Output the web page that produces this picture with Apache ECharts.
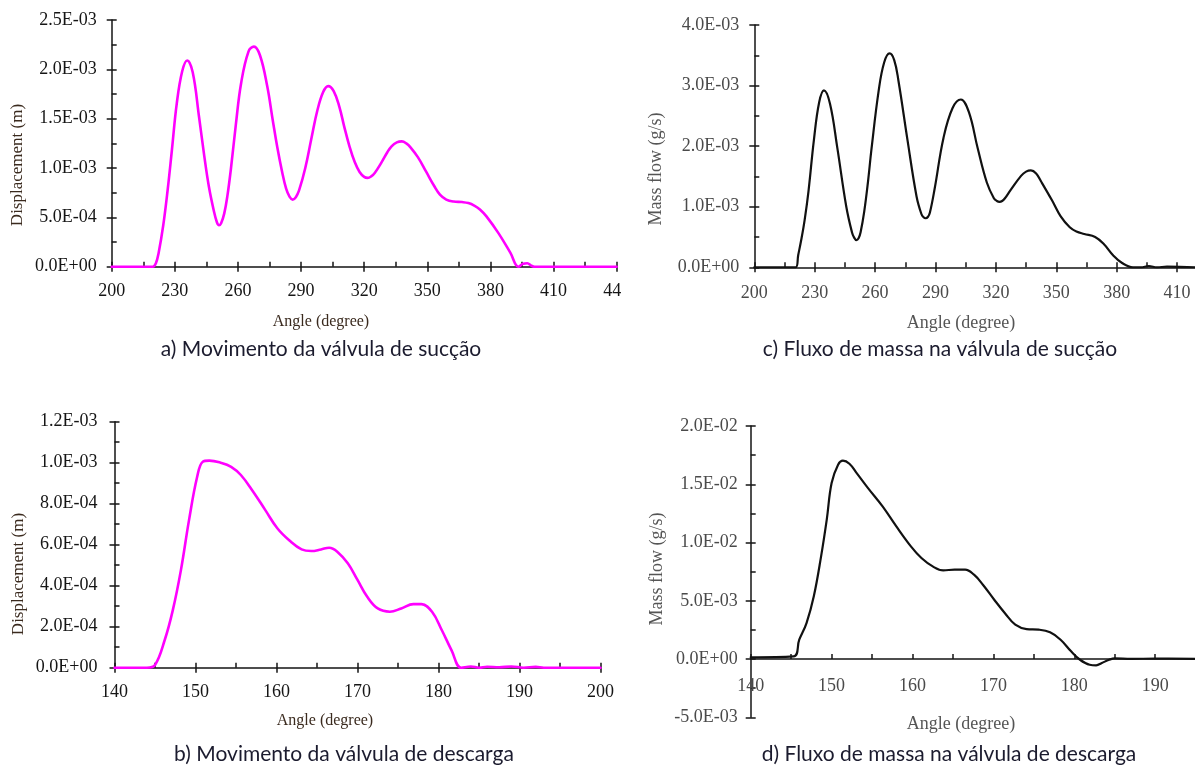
<!DOCTYPE html>
<html>
<head>
<meta charset="utf-8">
<title>Válvulas de sucção e descarga</title>
<script src="https://cdn.jsdelivr.net/npm/echarts@6/dist/echarts.min.js"></script>
<style>
  html, body { margin: 0; padding: 0; background: #ffffff; }
  #chart { width: 1195px; height: 765px; }
</style>
</head>
<body>
<div id="chart"></div>
<script>
// ---- a) suction valve displacement (m) vs crank angle (degree)
const suctionDispAngle = [200, 219.5, 221, 222.3, 224.5, 226.6, 228.6, 230.9, 233.5, 235.9, 238.5, 241.5, 244, 246.2, 248.5, 250, 251, 252, 253.5, 255, 256.7, 259, 261.5, 265, 267.6, 270.5, 273.9, 276.5, 278.7, 281, 282.9, 284.5, 286, 287.5, 289, 292, 295, 297.7, 300.5, 302.9, 305.5, 308.2, 310.5, 313, 315.5, 317.8, 320, 321.6, 323.3, 325, 328.3, 331, 333, 335.5, 337.9, 340, 342, 345.5, 349.5, 353.2, 356, 359, 362.5, 366.5, 369.5, 372.3, 375, 378.1, 383.8, 389.5, 393.3, 395.5, 397.5, 399.5, 401, 440];
const suctionDisp = [0, 0, 3.5e-5, 1.4e-4, 4.2e-4, 7.8e-4, 1.18e-3, 1.65e-3, 1.98e-3, 2.09e-3, 1.97e-3, 1.52e-3, 1.12e-3, 8.1e-4, 5.7e-4, 4.5e-4, 4.2e-4, 4.4e-4, 5.4e-4, 7.2e-4, 1.0e-3, 1.44e-3, 1.86e-3, 2.18e-3, 2.23e-3, 2.14e-3, 1.83e-3, 1.49e-3, 1.21e-3, 9.6e-4, 7.9e-4, 7.1e-4, 6.8e-4, 7.05e-4, 7.7e-4, 1.0e-3, 1.31e-3, 1.58e-3, 1.77e-3, 1.83e-3, 1.78e-3, 1.62e-3, 1.42e-3, 1.22e-3, 1.06e-3, 9.6e-4, 9.1e-4, 9.0e-4, 9.15e-4, 9.5e-4, 1.06e-3, 1.16e-3, 1.22e-3, 1.26e-3, 1.27e-3, 1.25e-3, 1.21e-3, 1.11e-3, 9.6e-4, 8.2e-4, 7.3e-4, 6.8e-4, 6.6e-4, 6.55e-4, 6.45e-4, 6.2e-4, 5.8e-4, 5.1e-4, 3.4e-4, 1.4e-4, 0, 3.0e-5, 3.5e-5, 1.0e-5, 0, 0];

// ---- c) suction valve mass flow (g/s)
const suctionFlowAngle = [200, 220.6, 221.8, 223.3, 225, 226.9, 229.6, 232.2, 234.6, 237.6, 241.2, 245.7, 248.5, 249.6, 250.7, 251.8, 252.8, 254.6, 256.5, 258.2, 261.8, 264.5, 267.2, 269.5, 271.6, 276.1, 280.6, 283, 284.1, 285.1, 286.2, 287.2, 289.6, 294, 298.5, 302.6, 306.6, 311, 315.5, 319, 320.5, 321.8, 323.1, 324.5, 327.2, 332.5, 335, 337.4, 340, 342.4, 347.8, 352.2, 356.7, 360, 363.9, 369.3, 373.7, 378.2, 382.7, 388.1, 392, 396, 400, 405, 420];
const suctionFlow = [0, 0, 2.0e-4, 4.5e-4, 7.8e-4, 1.25e-3, 2.10e-3, 2.72e-3, 2.92e-3, 2.70e-3, 1.98e-3, 1.0e-3, 5.8e-4, 4.9e-4, 4.5e-4, 4.8e-4, 5.8e-4, 9.2e-4, 1.42e-3, 1.95e-3, 2.92e-3, 3.38e-3, 3.53e-3, 3.42e-3, 3.08e-3, 2.10e-3, 1.17e-3, 8.8e-4, 8.25e-4, 8.1e-4, 8.3e-4, 9.0e-4, 1.30e-3, 2.14e-3, 2.63e-3, 2.77e-3, 2.56e-3, 1.96e-3, 1.40e-3, 1.14e-3, 1.095e-3, 1.08e-3, 1.095e-3, 1.14e-3, 1.27e-3, 1.51e-3, 1.58e-3, 1.60e-3, 1.55e-3, 1.42e-3, 1.11e-3, 8.4e-4, 6.6e-4, 5.9e-4, 5.5e-4, 5.0e-4, 3.8e-4, 2.0e-4, 7.0e-5, 0, 0, 2.0e-5, 0, 1.0e-5, 0];

// ---- b) discharge valve displacement (m)
const dischargeDispAngle = [140, 144.0, 145, 146.2, 147.2, 148.2, 149.2, 150.2, 150.9, 151.7, 153.1, 154.4, 155.6, 157.1, 158.6, 160.1, 161.6, 163.1, 164.3, 165.5, 166.5, 167.5, 168.8, 170, 171.2, 172.5, 174, 175.4, 176.9, 177.9, 179.2, 180.4, 181.6, 182.8, 184, 185, 186, 187.5, 189, 190.5, 192, 193, 200];
const dischargeDisp = [0, 0, 1.3e-5, 1.35e-4, 2.81e-4, 4.76e-4, 7.2e-4, 9.3e-4, 1.005e-3, 1.01e-3, 1.0e-3, 9.8e-4, 9.4e-4, 8.6e-4, 7.7e-4, 6.8e-4, 6.2e-4, 5.77e-4, 5.69e-4, 5.77e-4, 5.85e-4, 5.66e-4, 5.09e-4, 4.28e-4, 3.46e-4, 2.89e-4, 2.73e-4, 2.89e-4, 3.1e-4, 3.1e-4, 2.73e-4, 1.84e-4, 8.6e-5, 0, 6e-6, 0, 5e-6, 2e-6, 6e-6, 0, 4e-6, 0, 0];

// ---- d) discharge valve mass flow (g/s)
const dischargeFlowAngle = [140, 145.3, 146, 146.9, 147.8, 148.7, 149.4, 150, 150.8, 151.4, 152.2, 153.1, 154.5, 156.3, 158, 159.8, 161.1, 162.5, 163.8, 165.2, 166.5, 167.6, 168.7, 170.1, 171.4, 172.7, 174.1, 175.6, 177, 178.3, 179.6, 180.7, 181.9, 182.7, 183.4, 184.3, 185, 187, 190, 195];
const dischargeFlow = [1.5e-4, 2.3e-4, 1.66e-3, 3.09e-3, 5.38e-3, 8.81e-3, 1.196e-2, 1.51e-2, 1.668e-2, 1.702e-2, 1.676e-2, 1.596e-2, 1.467e-2, 1.31e-2, 1.138e-2, 9.67e-3, 8.67e-3, 7.95e-3, 7.61e-3, 7.67e-3, 7.67e-3, 7.24e-3, 6.38e-3, 5.09e-3, 3.95e-3, 2.95e-3, 2.57e-3, 2.52e-3, 2.29e-3, 1.66e-3, 6.6e-4, -6e-5, -4.9e-4, -5.4e-4, -3.4e-4, -6e-5, 6e-5, 2e-5, 3e-5, 2e-5];

// ---- tick values
const xTicksSuction = [200, 230, 260, 290, 320, 350, 380, 410, 440];
const xMinorSuction = [215, 245, 275, 305, 335, 365, 395, 425];
const xTicksDischarge = [140, 150, 160, 170, 180, 190, 200];
const xMinorDischarge = [145, 155, 165, 175, 185, 195];
const yTicksA = [0, 5e-4, 1e-3, 1.5e-3, 2e-3, 2.5e-3];
const yMinorA = [2.5e-4, 7.5e-4, 1.25e-3, 1.75e-3, 2.25e-3];
const yTicksC = [0, 1e-3, 2e-3, 3e-3, 4e-3];
const yMinorC = [5e-4, 1.5e-3, 2.5e-3, 3.5e-3];
const yTicksB = [0, 2e-4, 4e-4, 6e-4, 8e-4, 1e-3, 1.2e-3];
const yMinorB = [1e-4, 3e-4, 5e-4, 7e-4, 9e-4, 1.1e-3];
const yTicksD = [-5e-3, 0, 5e-3, 1e-2, 1.5e-2, 2e-2];
const yMinorD = [-2.5e-3, 2.5e-3, 7.5e-3, 1.25e-2, 1.75e-2];

// Scientific notation with a two-digit exponent, e.g. 2.5E-03
function sci(v) {
  if (Math.abs(v) < 1e-12) return '0.0E+00';
  const parts = v.toExponential(1).split('e');
  const e = parseInt(parts[1], 10);
  return parts[0] + 'E' + (e < 0 ? '-' : '+') + String(Math.abs(e)).padStart(2, '0');
}

function pairs(xs, ys) { return xs.map((x, i) => [x, ys[i]]); }

const SERIF = '"Liberation Serif", "Times New Roman", serif';
const INK = '#151515';
const GREY = '#4a4a4a';

// One panel = a grid with a labelled pair of axes plus a second pair that only carries inner ticks.
function panelAxes(g, p) {
  const line = { color: INK, width: 1.5 };
  // the horizontal axis of a panel whose value range crosses zero sits on the zero line
  const xOffset = p.yMin < 0 ? -p.grid.height * (-p.yMin) / (p.yMax - p.yMin) : 0;
  const xMain = {
    type: 'value', gridIndex: g, position: 'bottom', offset: xOffset, min: p.xMin, max: p.xMax,
    axisLine: { show: true, onZero: false, lineStyle: line },
    axisTick: { show: p.xOuterTicks, inside: false, length: 5, customValues: p.xTicks, lineStyle: line },
    axisLabel: { customValues: p.xTicks, margin: p.xMargin, fontFamily: SERIF, fontSize: p.xFont, color: p.labelColor },
    splitLine: { show: false }
  };
  const xInner = {
    type: 'value', gridIndex: g, position: 'bottom', offset: xOffset, min: p.xMin, max: p.xMax,
    axisLine: { show: false, onZero: false },
    axisTick: { show: true, inside: true, length: 5, customValues: p.xTicks.concat(p.xMinor), lineStyle: line },
    axisLabel: { show: false }, splitLine: { show: false }
  };
  const yMain = {
    type: 'value', gridIndex: g, position: 'left', min: p.yMin, max: p.yMax,
    axisLine: { show: true, onZero: false, lineStyle: line },
    axisTick: { show: true, inside: false, length: 5, customValues: p.yTicks, lineStyle: line },
    axisLabel: { customValues: p.yTicks, margin: p.yMargin, formatter: sci, fontFamily: SERIF, fontSize: 18, color: p.labelColor },
    splitLine: { show: false }
  };
  const yInner = {
    type: 'value', gridIndex: g, position: 'left', min: p.yMin, max: p.yMax,
    axisLine: { show: false, onZero: false },
    axisTick: { show: true, inside: true, length: 5, customValues: p.yTicks.concat(p.yMinor), lineStyle: line },
    axisLabel: { show: false }, splitLine: { show: false }
  };
  return { x: [xMain, xInner], y: [yMain, yInner] };
}

const panels = [
  { grid: { left: 111.7, top: 20, width: 505, height: 246.7 },
    xMin: 200, xMax: 440, xTicks: xTicksSuction, xMinor: xMinorSuction, xOuterTicks: true,
    yMin: 0, yMax: 2.5e-3, yTicks: yTicksA, yMinor: yMinorA,
    xMargin: 16, yMargin: 15, xFont: 18, labelColor: INK,
    data: pairs(suctionDispAngle, suctionDisp), color: '#ff00ff', width: 2.6 },
  { grid: { left: 754.3, top: 25, width: 442.9, height: 242.3 },
    xMin: 200, xMax: 420, xTicks: xTicksSuction.slice(0, 8), xMinor: xMinorSuction.slice(0, 7), xOuterTicks: true,
    yMin: 0, yMax: 4e-3, yTicks: yTicksC, yMinor: yMinorC,
    xMargin: 17, yMargin: 15, xFont: 18, labelColor: GREY,
    data: pairs(suctionFlowAngle, suctionFlow), color: '#111111', width: 2.2 },
  { grid: { left: 114.5, top: 421.7, width: 486, height: 246 },
    xMin: 140, xMax: 200, xTicks: xTicksDischarge, xMinor: xMinorDischarge, xOuterTicks: true,
    yMin: 0, yMax: 1.2e-3, yTicks: yTicksB, yMinor: yMinorB,
    xMargin: 16, yMargin: 17, xFont: 18, labelColor: INK,
    data: pairs(dischargeDispAngle, dischargeDisp), color: '#ff00ff', width: 2.6 },
  { grid: { left: 750.7, top: 426, width: 445, height: 291.3 },
    xMin: 140, xMax: 195, xTicks: xTicksDischarge.slice(0, 6), xMinor: xMinorDischarge.slice(0, 5), xOuterTicks: false,
    yMin: -5e-3, yMax: 2e-2, yTicks: yTicksD, yMinor: yMinorD,
    xMargin: 18, yMargin: 13, xFont: 18, labelColor: GREY,
    data: pairs(dischargeFlowAngle, dischargeFlow), color: '#111111', width: 2.2 }
];

const grids = [], xAxes = [], yAxes = [], series = [];
panels.forEach((p, g) => {
  grids.push(Object.assign({ outerBoundsMode: 'none', containLabel: false }, p.grid));
  const ax = panelAxes(g, p);
  const xi = xAxes.length, yi = yAxes.length;
  xAxes.push(ax.x[0], ax.x[1]);
  yAxes.push(ax.y[0], ax.y[1]);
  series.push({
    type: 'line', xAxisIndex: xi, yAxisIndex: yi, data: p.data,
    smooth: 0.4, showSymbol: false, symbol: 'none', z: 5,
    lineStyle: { color: p.color, width: p.width, cap: 'round', join: 'round' },
    silent: true, animation: false
  });
});

function label(text, x, y, opts) {
  return {
    type: 'text', x: x, y: y, rotation: opts.rotate ? Math.PI / 2 : 0, z: 20,
    style: { text: text, fontFamily: opts.family || SERIF, fontSize: opts.size, fill: opts.color,
             align: 'center', verticalAlign: 'middle' }
  };
}
const CAPTION = { family: 'Lato, "Open Sans", sans-serif', size: 21, color: '#1b1b2e' };

const graphics = [
  // the 440 label is trimmed at the right border of the first panel
  { type: 'rect', shape: { x: 621, y: 278, width: 16, height: 32 }, style: { fill: '#ffffff' }, z: 30 },
  label('Displacement (m)', 18, 165, { size: 17, color: '#3a2a1e', rotate: true }),
  label('Angle (degree)', 321, 322, { size: 16, color: '#3a2a1e' }),
  label('a) Movimento da válvula de sucção', 321, 349, CAPTION),
  label('Mass flow (g/s)', 656, 169, { size: 18, color: '#555555', rotate: true }),
  label('Angle (degree)', 961, 323, { size: 18, color: '#555555' }),
  label('c) Fluxo de massa na válvula de sucção', 940, 349, CAPTION),
  label('Displacement (m)', 19, 574, { size: 17, color: '#3a2a1e', rotate: true }),
  label('Angle (degree)', 325, 721, { size: 16, color: '#3a2a1e' }),
  label('b) Movimento da válvula de descarga', 344, 754, CAPTION),
  label('Mass flow (g/s)', 657, 569, { size: 18, color: '#555555', rotate: true }),
  label('Angle (degree)', 961, 724, { size: 18, color: '#555555' }),
  label('d) Fluxo de massa na válvula de descarga', 949, 754, CAPTION)
];

const chart = echarts.init(document.getElementById('chart'), null, { renderer: 'canvas' });
chart.setOption({
  backgroundColor: '#ffffff',
  animation: false,
  grid: grids,
  xAxis: xAxes,
  yAxis: yAxes,
  series: series,
  graphic: graphics
});
</script>
</body>
</html>
